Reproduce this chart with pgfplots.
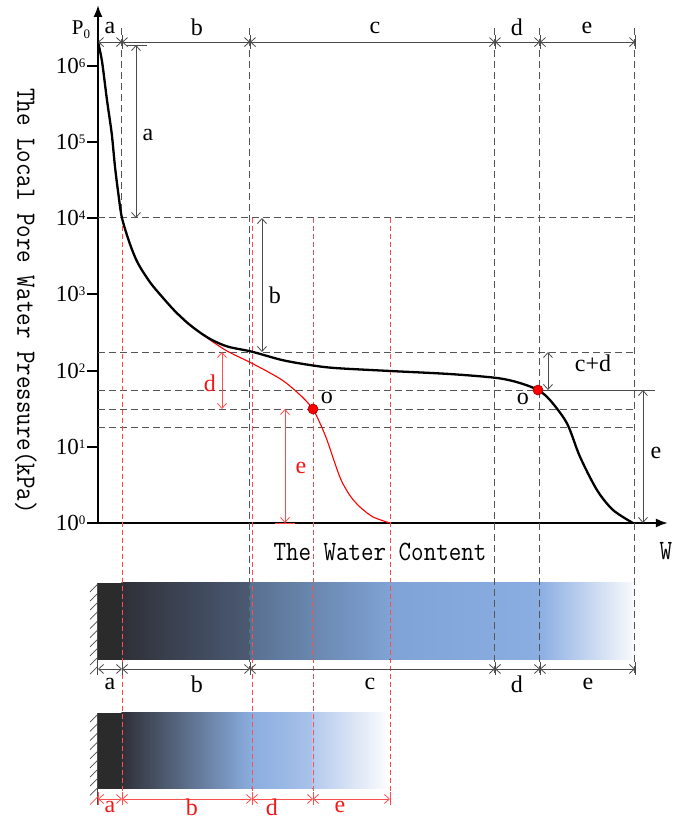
\documentclass[border=0pt]{standalone}
\usepackage{fontspec}
\setmainfont{Liberation Serif}
\usepackage{graphicx}
\usepackage{pgfplots}
\pgfplotsset{compat=1.18}
\usetikzlibrary{arrows.meta}
\definecolor{gline}{HTML}{555555}
\definecolor{dline}{HTML}{4A4A4A}
\definecolor{rline}{HTML}{FF4C4C}
\definecolor{rtxt}{HTML}{F21818}
\definecolor{cA}{HTML}{2B2B2B}
\definecolor{cB}{HTML}{2F3037}
\definecolor{cC}{HTML}{4B5A74}
\definecolor{cD}{HTML}{58708F}
\definecolor{cE}{HTML}{7FA3D5}
\definecolor{cF}{HTML}{8BAEE2}
\definecolor{cW}{HTML}{FAFBFD}
\definecolor{dB}{HTML}{8AADDF}
\definecolor{dC}{HTML}{A9C2EA}
\definecolor{dD}{HTML}{B3C9ED}
\newcommand\pw[1]{10\raisebox{6pt}{\fontsize{13}{13}\selectfont #1}}
\newcommand\mono[1]{\scalebox{1}[1.15]{\ttfamily\fontsize{24.3}{25}\selectfont #1}}
\tikzset{
  gdash/.style={draw=gline, line width=1pt, dash pattern=on 7pt off 4pt},
  rdash/.style={draw=rline, line width=0.8pt, dash pattern=on 5pt off 3pt},
  dimarr/.style={draw=dline, line width=0.8pt, {Straight Barb[length=5pt,width=9pt]}-{Straight Barb[length=5pt,width=9pt]}},
  rdimarr/.style={draw=rline, line width=0.8pt, {Straight Barb[length=5pt,width=9pt]}-{Straight Barb[length=5pt,width=9pt]}},
  tk/.style={draw=dline, line width=0.8pt},
  rtk/.style={draw=rline, line width=0.8pt},
  lbl/.style={font=\fontsize{24}{24}\selectfont, inner sep=0pt},
  rlbl/.style={font=\fontsize{24}{24}\selectfont, inner sep=0pt, text=rtxt},
  ttl/.style={inner sep=0pt},
}
\begin{document}
\begin{tikzpicture}
\begin{axis}[
  x=1pt, y=76.2pt,
  xmin=0, xmax=570, ymin=0, ymax=6.8,
  axis lines=left,
  axis line style={line width=2.2pt, -{Latex[length=12pt,width=9pt]}},
  clip=false,
  xtick=\empty,
  ytick={0,1,2,3,4,5,6},
  yticklabels={\pw{0},\pw{1},\pw{2},\pw{3},\pw{4},\pw{5},\pw{6}},
  tick align=outside,
  major tick length=11pt,
  ytick style={line width=2pt, black},
  yticklabel style={font=\fontsize{23}{23}\selectfont, inner sep=1.5pt},
]
% picture frame (bounding box)
\path (axis cs:-98,6.864) rectangle (axis cs:585,-3.898);

% ---------- gradient bar 1 ----------
\fill[cA] (axis cs:0,-0.787) rectangle (axis cs:24,-1.798);
\fill[left color=cB, right color=cC] (axis cs:23.5,-0.787) rectangle (axis cs:152,-1.798);
\fill[left color=cD, right color=cE] (axis cs:151.5,-0.787) rectangle (axis cs:292,-1.798);
\fill[left color=cE, right color=cF] (axis cs:291.5,-0.787) rectangle (axis cs:442,-1.798);
\fill[left color=cF, right color=cW] (axis cs:441.5,-0.787) rectangle (axis cs:537,-1.798);
% ---------- gradient bar 2 ----------
\fill[cA] (axis cs:0,-2.493) rectangle (axis cs:24,-3.491);
\fill[left color=cB, right color=dB] (axis cs:23.5,-2.493) rectangle (axis cs:154,-3.491);
\fill[left color=dB, right color=dC] (axis cs:153.5,-2.493) rectangle (axis cs:215,-3.491);
\fill[left color=dD, right color=cW] (axis cs:214.5,-2.493) rectangle (axis cs:288,-3.491);

% walls with hatching
\draw[dline, line width=1pt] (axis cs:0,-0.787) -- (axis cs:0,-1.995);
\draw[dline, line width=1pt] (axis cs:0,-2.493) -- (axis cs:0,-3.70);
\pgfplotsinvokeforeach{-0.80,-0.92,-1.04,-1.16,-1.28,-1.40,-1.52,-1.64,-1.76,-1.88}{
  \draw[dline, line width=0.7pt] (axis cs:0,#1) -- ++(-8pt,-8pt);
}
\pgfplotsinvokeforeach{-2.51,-2.63,-2.75,-2.87,-2.99,-3.11,-3.23,-3.35,-3.47}{
  \draw[dline, line width=0.7pt] (axis cs:0,#1) -- ++(-8pt,-8pt);
}
\draw[rline, line width=0.7pt] (axis cs:0,-3.59) -- ++(-8pt,-8pt);

% ---------- dashed guide lines ----------
\draw[gdash] (axis cs:0,4.003) -- (axis cs:537,4.003);
\draw[gdash] (axis cs:0,2.244) -- (axis cs:537,2.244);
\draw[gdash] (axis cs:0,1.745) -- (axis cs:537,1.745);
\draw[gdash] (axis cs:0,1.496) -- (axis cs:537,1.496);
\draw[gdash] (axis cs:0,1.247) -- (axis cs:537,1.247);
\draw[gdash] (axis cs:24,6.496) -- (axis cs:24,4.003);
\draw[gdash] (axis cs:152,6.496) -- (axis cs:152,-1.916);
\draw[gdash] (axis cs:397,6.496) -- (axis cs:397,-1.995);
\draw[gdash] (axis cs:442,6.496) -- (axis cs:442,-1.995);
\draw[gdash] (axis cs:537,6.496) -- (axis cs:537,-1.995);
\draw[rdash] (axis cs:24,4.003) -- (axis cs:24,-3.70);
\draw[rdash] (axis cs:154,4.003) -- (axis cs:154,-3.70);
\draw[rdash] (axis cs:215,4.003) -- (axis cs:215,-3.70);
\draw[rdash] (axis cs:292,4.003) -- (axis cs:292,-3.70);

% ---------- curves ----------
\addplot[red, line width=1.1pt, smooth, tension=0.5] coordinates {
 (0,6.312) (4,6.06) (9,5.55) (13.7,5.114) (17,4.676) (20.3,4.327) (24,4.003)
 (32,3.66) (40,3.408) (52,3.16) (64,2.970) (77,2.78) (90,2.615) (104,2.48)
 (114,2.385) (130,2.25) (154,2.096) (184,1.877) (204,1.657) (215,1.492)
 (222,1.31) (229,1.09) (242,0.60) (252,0.36) (262,0.21) (275,0.08) (292,0)
};
\addplot[black, line width=2.3pt, smooth, tension=0.5] coordinates {
 (0,6.312) (4,6.06) (9,5.55) (13.7,5.114) (17,4.676) (20.3,4.327) (24,4.003)
 (32,3.66) (40,3.408) (52,3.16) (64,2.970) (77,2.78) (90,2.621) (102,2.50)
 (114,2.402) (130,2.314) (154,2.248) (184,2.139) (212,2.073) (237,2.034)
 (292,1.995) (352,1.955) (399,1.903) (422,1.837) (440,1.745) (452,1.614)
 (469,1.308) (482,0.870) (499,0.433) (515,0.171) (535,0)
};
\addplot[only marks, mark=*, mark size=5pt,
  mark options={fill=red, draw=red!60!black, line width=0.6pt}]
  coordinates {(215,1.496) (440,1.745)};

% ---------- top dimension line ----------
\draw[dimarr] (axis cs:0,6.312) -- (axis cs:24,6.312);
\draw[dimarr] (axis cs:24,6.312) -- (axis cs:152,6.312);
\draw[dimarr] (axis cs:152,6.312) -- (axis cs:397,6.312);
\draw[dimarr] (axis cs:397,6.312) -- (axis cs:442,6.312);
\draw[dimarr] (axis cs:442,6.312) -- (axis cs:537,6.312);
\pgfplotsinvokeforeach{24,152,397,442,537}{
  \draw[tk] (axis cs:#1,6.22) -- (axis cs:#1,6.40);
}
\node[lbl] at (axis cs:12,6.50) {a};
\node[lbl] at (axis cs:99,6.50) {b};
\node[lbl] at (axis cs:277,6.50) {c};
\node[lbl] at (axis cs:419,6.50) {d};
\node[lbl] at (axis cs:489,6.50) {e};
\node[font=\fontsize{21}{21}\selectfont, inner sep=0pt] at (axis cs:-17,6.48) {P\raisebox{-4pt}{\fontsize{13}{13}\selectfont 0}};

% ---------- vertical dimension arrows ----------
\draw[dimarr] (axis cs:38,6.273) -- (axis cs:38,4.003);
\draw[tk] (axis cs:29,6.273) -- (axis cs:49,6.273);
\node[lbl] at (axis cs:50,5.092) {a};
\draw[dimarr] (axis cs:164,4.003) -- (axis cs:164,2.244);
\node[lbl] at (axis cs:177,2.992) {b};
\draw[dimarr] (axis cs:450,2.244) -- (axis cs:450,1.745);
\node[lbl] at (axis cs:495,2.10) {c+d};
\draw[tk] (axis cs:442,1.745) -- (axis cs:557,1.745);
\draw[dimarr] (axis cs:545,1.745) -- (axis cs:545,0);
\node[lbl] at (axis cs:558,0.919) {e};
\draw[rdimarr] (axis cs:124,2.244) -- (axis cs:124,1.496);
\node[rlbl] at (axis cs:112,1.837) {d};
\draw[rdimarr] (axis cs:187,1.496) -- (axis cs:187,0);
\draw[rtk] (axis cs:177,0) -- (axis cs:197,0);
\node[rlbl] at (axis cs:203,0.722) {e};
\node[lbl] at (axis cs:229,1.64) {o};
\node[lbl] at (axis cs:425,1.63) {o};

% ---------- axis titles ----------
\node[ttl, rotate=-90] at (axis cs:-72,2.913) {\mono{The Local Pore Water Pressure(kPa)}};
\node[ttl] at (axis cs:282,-0.381) {\mono{The Water Content}};
\node[ttl] at (axis cs:568,-0.367) {\mono{W}};

% ---------- bar 1 dimension line ----------
\draw[dimarr] (axis cs:0,-1.916) -- (axis cs:24,-1.916);
\draw[dimarr] (axis cs:24,-1.916) -- (axis cs:152,-1.916);
\draw[dimarr] (axis cs:152,-1.916) -- (axis cs:397,-1.916);
\draw[dimarr] (axis cs:397,-1.916) -- (axis cs:442,-1.916);
\draw[dimarr] (axis cs:442,-1.916) -- (axis cs:537,-1.916);
\pgfplotsinvokeforeach{24,152,397,442,537}{
  \draw[tk] (axis cs:#1,-1.82) -- (axis cs:#1,-2.0);
}
\node[lbl] at (axis cs:12,-2.113) {a};
\node[lbl] at (axis cs:99,-2.113) {b};
\node[lbl] at (axis cs:272,-2.113) {c};
\node[lbl] at (axis cs:419,-2.113) {d};
\node[lbl] at (axis cs:490,-2.113) {e};

% ---------- bar 2 dimension line (red) ----------
\draw[rdimarr] (axis cs:0,-3.622) -- (axis cs:24,-3.622);
\draw[rdimarr] (axis cs:24,-3.622) -- (axis cs:154,-3.622);
\draw[rdimarr] (axis cs:154,-3.622) -- (axis cs:215,-3.622);
\draw[rdimarr] (axis cs:215,-3.622) -- (axis cs:292,-3.622);
\pgfplotsinvokeforeach{0,24,154,215,292}{
  \draw[rtk] (axis cs:#1,-3.53) -- (axis cs:#1,-3.70);
}
\node[rlbl] at (axis cs:12,-3.73) {a};
\node[rlbl] at (axis cs:94,-3.73) {b};
\node[rlbl] at (axis cs:174,-3.73) {d};
\node[rlbl] at (axis cs:242,-3.73) {e};
\end{axis}
\end{tikzpicture}
\end{document}
